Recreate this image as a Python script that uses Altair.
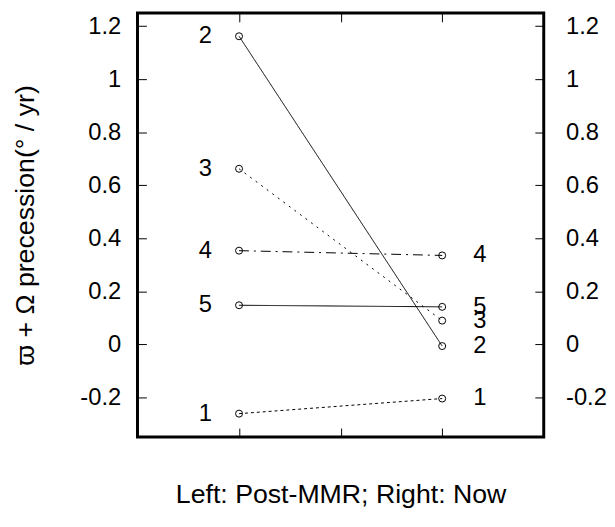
import altair as alt
import pandas as pd

series = ["1", "2", "3", "4", "5"]
post_mmr = [-0.262, 1.162, 0.662, 0.353, 0.147]
now = [-0.205, -0.007, 0.089, 0.335, 0.141]
stage_x = [1, 2]
y_ticks = [-0.2, 0, 0.2, 0.4, 0.6, 0.8, 1.0, 1.2]
x_ticks = [1, 1.5, 2]
dashes = [[3, 3], [1, 0], [2, 5], [10, 5, 2, 5], [1, 0]]

rows = []
for s, a, b in zip(series, post_mmr, now):
    rows.append({"series": s, "stage": stage_x[0], "value": a})
    rows.append({"series": s, "stage": stage_x[1], "value": b})
df = pd.DataFrame(rows)

W, H = 411, 429
FONT = "Liberation Sans"
FS = 24
TFS = 27
xs = alt.Scale(domain=[0.5, 2.5], nice=False, zero=False)
ys = alt.Scale(domain=[-0.35, 1.25], nice=False, zero=False)
lbl = "'' + round(datum.value*10)/10"

base = alt.Chart(df)

lines = base.mark_line(color="black", strokeWidth=1).encode(
    x=alt.X("stage:Q", scale=xs, axis=alt.Axis(
        orient="bottom", values=x_ticks, labels=False, ticks=False, domain=False, grid=False,
        title="Left: Post-MMR; Right: Now", titleFont=FONT, titleFontSize=TFS,
        titleFontWeight="normal", titleColor="black", titlePadding=45)),
    y=alt.Y("value:Q", scale=ys, axis=alt.Axis(
        orient="left", values=y_ticks, labelExpr=lbl, ticks=False, domain=False, grid=False,
        labelFont=FONT, labelFontSize=FS, labelColor="black", labelPadding=17,
        title="ϖ + Ω precession(° / yr)", titleFont=FONT, titleFontSize=TFS,
        titleFontWeight="normal", titleColor="black", titlePadding=41)),
    detail="series:N",
    strokeDash=alt.StrokeDash("series:N", scale=alt.Scale(domain=series, range=dashes), legend=None),
)

points = base.mark_point(shape="circle", filled=False, color="black", size=50, strokeWidth=1, opacity=1).encode(
    x=alt.X("stage:Q", scale=xs, axis=alt.Axis(
        orient="top", offset=-H, values=x_ticks, labels=False, ticks=True, tickSize=9,
        tickColor="black", tickWidth=1, domain=False, grid=False, title=None)),
    y=alt.Y("value:Q", scale=ys, axis=alt.Axis(
        orient="right", values=y_ticks, labelExpr=lbl, ticks=False, domain=False, grid=False,
        labelFont=FONT, labelFontSize=FS, labelColor="black", labelPadding=22, title=None)),
)

left_text = base.transform_filter(alt.datum.stage == stage_x[0]).mark_text(
    font=FONT, fontSize=FS, color="black", dx=-34, align="center", baseline="middle").encode(
    x=alt.X("stage:Q", scale=xs, axis=alt.Axis(
        orient="bottom", offset=-H, values=x_ticks, labels=False, ticks=True, tickSize=9,
        tickColor="black", tickWidth=1, domain=False, grid=False, title=None)),
    y=alt.Y("value:Q", scale=ys, axis=alt.Axis(
        orient="right", offset=-W, values=y_ticks, labels=False, ticks=True, tickSize=9,
        tickColor="black", tickWidth=1, domain=False, grid=False, title=None)),
    text="series:N",
)

right_text = base.transform_filter(alt.datum.stage == stage_x[1]).mark_text(
    font=FONT, fontSize=FS, color="black", dx=38, align="center", baseline="middle").encode(
    x=alt.X("stage:Q", scale=xs, axis=None),
    y=alt.Y("value:Q", scale=ys, axis=alt.Axis(
        orient="left", offset=-W, values=y_ticks, labels=False, ticks=True, tickSize=9,
        tickColor="black", tickWidth=1, domain=False, grid=False, title=None)),
    text="series:N",
)

chart = alt.layer(lines, points, left_text, right_text).resolve_scale(
    x="shared", y="shared"
).resolve_axis(
    x="independent", y="independent"
).properties(
    width=W, height=H,
    background="white",
    autosize=alt.AutoSizeParams(type="none"),
    padding={"left": 131, "top": 2, "right": 64, "bottom": 80},
).configure_view(
    stroke="black", strokeWidth=3
)

chart.save("out.html", embed_options={"renderer": "svg", "actions": False})
